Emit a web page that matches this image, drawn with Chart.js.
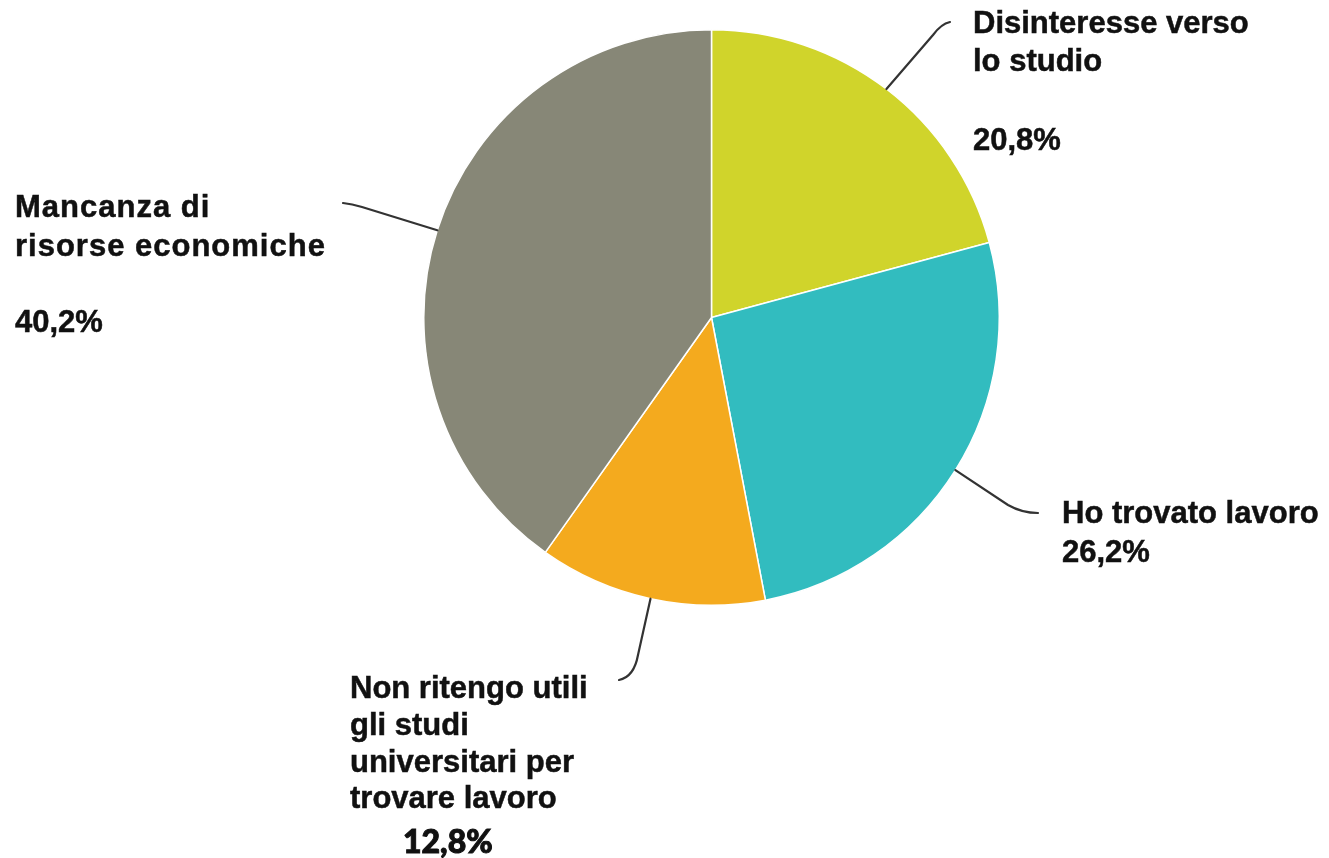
<!DOCTYPE html>
<html>
<head>
<meta charset="utf-8">
<style>
  html, body { margin: 0; padding: 0; background: #ffffff; }
  #wrap { width: 1329px; height: 858px; }
  canvas { display: block; }
</style>
<script src="https://cdn.jsdelivr.net/npm/chart.js@4/dist/chart.umd.min.js"></script>
</head>
<body>
<div id="wrap"><canvas id="pie" width="1329" height="858"></canvas></div>
<script>
// Motivi dell'abbandono degli studi (%)
const categories = [
  'Disinteresse verso lo studio',
  'Ho trovato lavoro',
  'Non ritengo utili gli studi universitari per trovare lavoro',
  'Mancanza di risorse economiche'
];
const values = [20.8, 26.2, 12.8, 40.2];
const sliceColors = ['#d0d42b', '#32bcbf', '#f4aa1e', '#878777'];

// Label text broken into the lines shown next to each slice
const labelLines = [
  ['Disinteresse verso', 'lo studio'],
  ['Ho trovato lavoro'],
  ['Non ritengo utili', 'gli studi', 'universitari per', 'trovare lavoro'],
  ['Mancanza di', 'risorse economiche']
];

const fmtPct = v => v.toFixed(1).replace('.', ',') + '%';

const LABEL_FONT = 'bold 31px "Liberation Sans", Arial, sans-serif';

// Where each callout sits and how its leader line bends
const callouts = [
  { x: 973, lines: [33, 71], spacing: 0, pct: { x: 973, y: 150, font: LABEL_FONT, stroke: 0.5 },
    leader: [['L', 933, 35], ['Q', 941, 24, 950, 22]] },
  { x: 1062, lines: [523], spacing: 0, pct: { x: 1062, y: 562, font: LABEL_FONT, stroke: 0.5 },
    leader: [['L', 1008, 505], ['Q', 1022, 513, 1038, 513]] },
  { x: 350, lines: [698, 735, 772, 808], spacing: 0,
    pct: { x: 403, y: 853, font: '900 32px Lato, "Open Sans", sans-serif', stroke: 1 },
    leader: [['L', 638, 655], ['Q', 634, 677, 619, 680]] },
  { x: 15, lines: [217, 256], spacing: 1, pct: { x: 15, y: 332, font: LABEL_FONT, stroke: 0.5 },
    leader: [['L', 362, 207], ['Q', 352, 204, 343, 203]] }
];

const calloutPlugin = {
  id: 'callouts',
  afterDatasetsDraw(chart) {
    const ctx = chart.ctx;
    const arcs = chart.getDatasetMeta(0).data;
    ctx.save();
    arcs.forEach((arc, i) => {
      const c = callouts[i];
      const mid = (arc.startAngle + arc.endAngle) / 2;
      const sx = arc.x + Math.cos(mid) * arc.outerRadius;
      const sy = arc.y + Math.sin(mid) * arc.outerRadius;
      ctx.beginPath();
      ctx.moveTo(sx, sy);
      c.leader.forEach(seg => {
        if (seg[0] === 'L') ctx.lineTo(seg[1], seg[2]);
        else ctx.quadraticCurveTo(seg[1], seg[2], seg[3], seg[4]);
      });
      ctx.strokeStyle = '#333333';
      ctx.lineWidth = 2.2;
      ctx.lineCap = 'round';
      ctx.stroke();

      ctx.fillStyle = '#111111';
      ctx.strokeStyle = '#111111';
      ctx.lineWidth = 0.5;
      ctx.textAlign = 'left';
      ctx.textBaseline = 'alphabetic';
      ctx.font = LABEL_FONT;
      ctx.letterSpacing = c.spacing + 'px';
      labelLines[i].forEach((t, k) => {
        ctx.fillText(t, c.x, c.lines[k]);
        ctx.strokeText(t, c.x, c.lines[k]);
      });
      ctx.letterSpacing = '0px';
      ctx.font = c.pct.font;
      ctx.lineWidth = c.pct.stroke;
      const pct = fmtPct(values[i]);
      ctx.fillText(pct, c.pct.x, c.pct.y);
      ctx.strokeText(pct, c.pct.x, c.pct.y);
    });
    ctx.restore();
  }
};

new Chart(document.getElementById('pie'), {
  type: 'pie',
  data: {
    labels: categories,
    datasets: [{
      data: values,
      backgroundColor: sliceColors,
      borderColor: '#ffffff',
      borderWidth: 1.5
    }]
  },
  options: {
    responsive: false,
    devicePixelRatio: 1,
    animation: false,
    layout: { padding: { left: 423, right: 329, top: 29, bottom: 252 } },
    plugins: {
      legend: { display: false },
      tooltip: { enabled: false }
    }
  },
  plugins: [calloutPlugin]
});
</script>
</body>
</html>
